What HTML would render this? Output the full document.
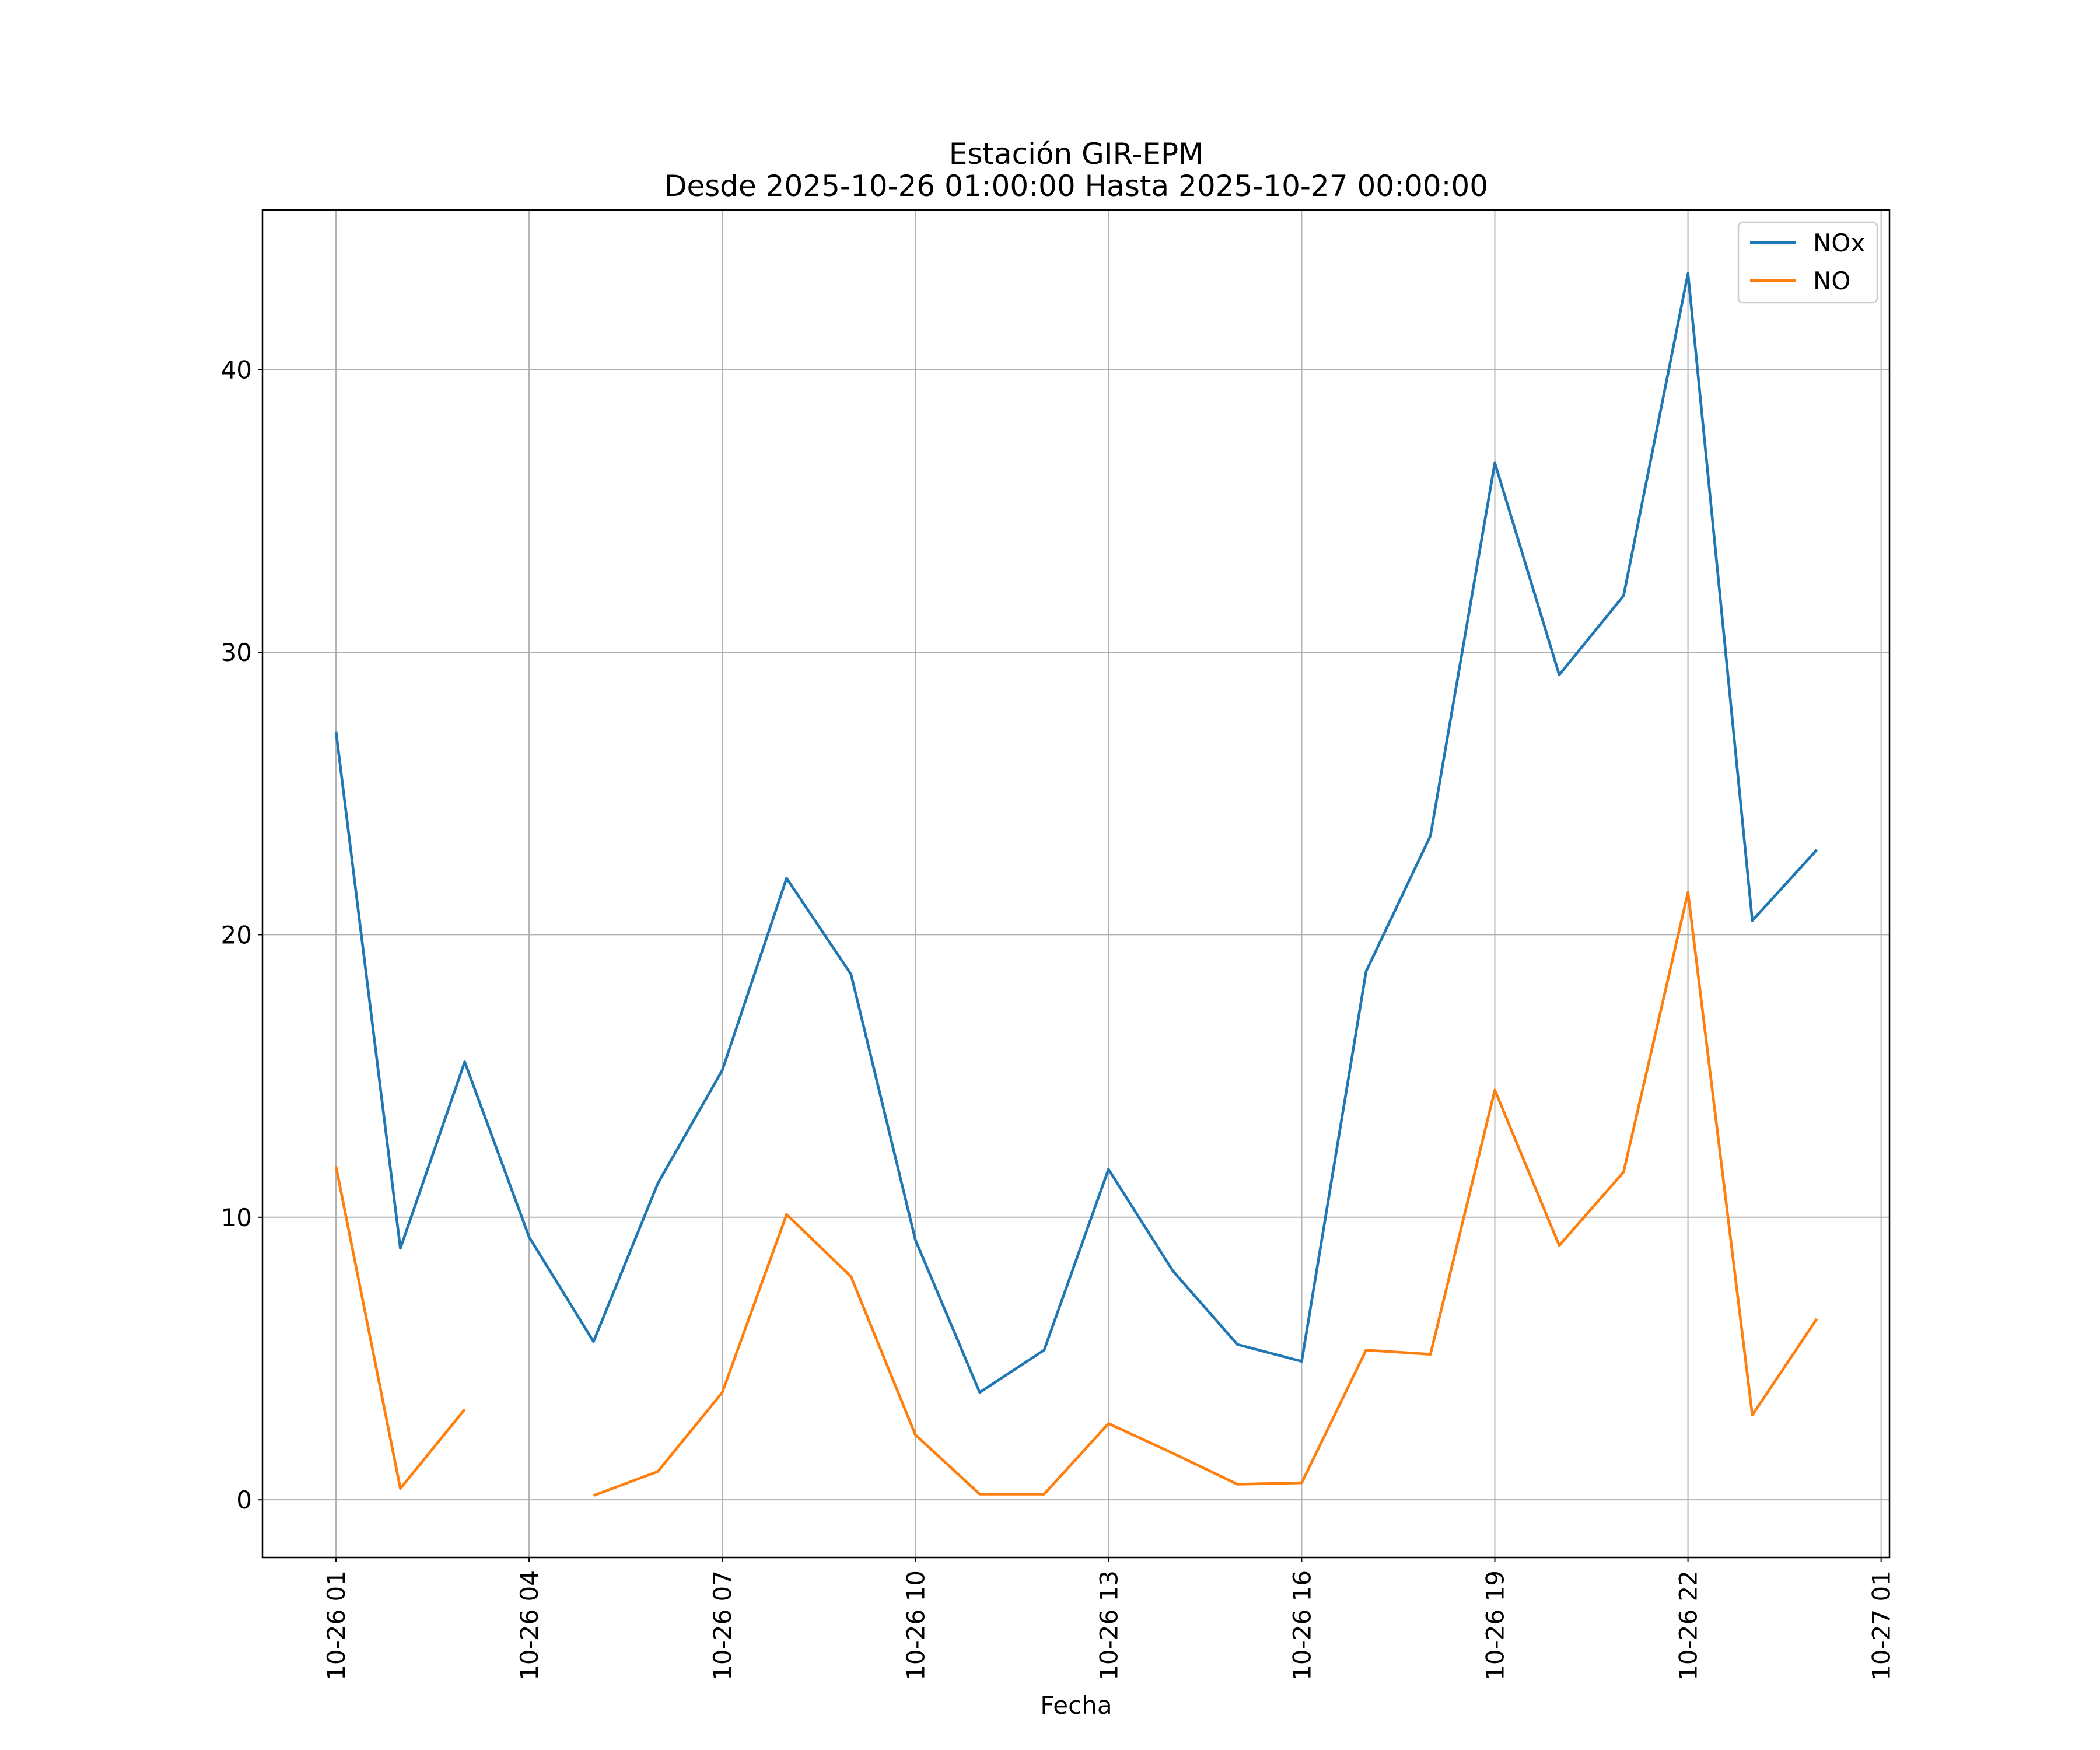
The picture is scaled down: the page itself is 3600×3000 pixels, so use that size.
<!DOCTYPE html>
<html><head><meta charset="utf-8"><style>
html,body{margin:0;padding:0;background:#fff}
svg{display:block;font-family:"DejaVu Sans","Liberation Sans",sans-serif}
</style></head><body>
<svg id="chart" width="3600" height="3000" viewBox="0 0 3600 3000">
<g id="grid"></g>
<g id="series"></g>
<g id="axes"></g>
<text x="1845" y="281" font-size="50" text-anchor="middle">Estación GIR-EPM</text>
<text x="1845" y="336" font-size="50" text-anchor="middle">Desde 2025-10-26 01:00:00 Hasta 2025-10-27 00:00:00</text>
<text x="1845" y="2938" font-size="42" text-anchor="middle">Fecha</text>
<g>
<rect x="2980" y="381" width="238" height="138" rx="8" fill="#fff" stroke="#ccc" stroke-width="2.5"/>
<line x1="3000" y1="416" x2="3078" y2="416" stroke="#1f77b4" stroke-width="4.6"/>
<text x="3108" y="431" font-size="42">NOx</text>
<line x1="3000" y1="481" x2="3078" y2="481" stroke="#ff7f0e" stroke-width="4.6"/>
<text x="3108" y="496" font-size="42">NO</text>
</g>
</svg>
<script>
const hours = [1,2,3,4,5,6,7,8,9,10,11,12,13,14,15,16,17,18,19,20,21,22,23,24];
const noxValues = [27.2,8.9,15.5,9.3,5.6,11.2,15.2,22.0,18.6,9.2,3.8,5.3,11.7,8.1,5.5,4.9,18.7,23.5,36.7,29.2,32.0,43.4,20.5,23.0];
const noValues = [11.8,0.4,3.2,null,0.15,1.0,3.8,10.1,7.9,2.3,0.2,0.2,2.7,1.65,0.55,0.6,5.3,5.15,14.5,9.0,11.6,21.5,3.0,6.4];
const yTicks = [0,10,20,30,40];
const xTickHours = [1,4,7,10,13,16,19,22,25];
const xTickLabels = ["10-26 01","10-26 04","10-26 07","10-26 10","10-26 13","10-26 16","10-26 19","10-26 22","10-27 01"];

const L=450,R=3239,T=360,B=2670;
const xMin=1-1.142,xMax=25.13,yMin=-2.04,yMax=45.65;
const xs=h=>L+(h-xMin)/(xMax-xMin)*(R-L);
const ys=v=>B-(v-yMin)/(yMax-yMin)*(B-T);
const NS="http://www.w3.org/2000/svg";
function mk(tag,attrs,parent){const e=document.createElementNS(NS,tag);for(const k in attrs)e.setAttribute(k,attrs[k]);parent.appendChild(e);return e;}
const grid=document.getElementById('grid'),axes=document.getElementById('axes'),series=document.getElementById('series');

yTicks.forEach(v=>{
  const y=ys(v);
  const g=mk('line',{x1:L,x2:R,y1:y,y2:y,stroke:'#b0b0b0','stroke-width':2},grid);
  
  
  const t=mk('line',{x1:L-8,x2:L,y1:y,y2:y,stroke:'#000','stroke-width':2},axes);
  
  
  const tx=mk('text',{x:L-18,y:y+15,'font-size':42,'text-anchor':'end'},axes);
  tx.textContent=String(v);
  
  
});
xTickHours.forEach((h,i)=>{
  const x=xs(h);
  const g=mk('line',{x1:x,x2:x,y1:T,y2:B,stroke:'#b0b0b0','stroke-width':2},grid);
  
  
  const t=mk('line',{x1:x,x2:x,y1:B,y2:B+8,stroke:'#000','stroke-width':2},axes);
  
  
  const tx=mk('text',{x:0,y:0,'font-size':42,'text-anchor':'end',transform:`translate(${x+15},${B+22}) rotate(-90)`},axes);
  tx.textContent=xTickLabels[i];
  
  
});
const frame=mk('rect',{x:L,y:T,width:R-L,height:B-T,fill:'none',stroke:'#000','stroke-width':2.5},axes);



function drawSeries(vals,color,name){
  let d='',pen=false;
  vals.forEach((v,i)=>{
    if(v===null){pen=false;return;}
    d+=(pen?'L':'M')+xs(hours[i]).toFixed(1)+','+ys(v).toFixed(1)+' ';pen=true;
  });
  const p=mk('path',{d:d,fill:'none',stroke:color,'stroke-width':4.6,'stroke-linejoin':'round'},series);
  
  
}
drawSeries(noxValues,'#1f77b4','nox-line');
drawSeries(noValues,'#ff7f0e','no-line');
</script>
</body></html>
